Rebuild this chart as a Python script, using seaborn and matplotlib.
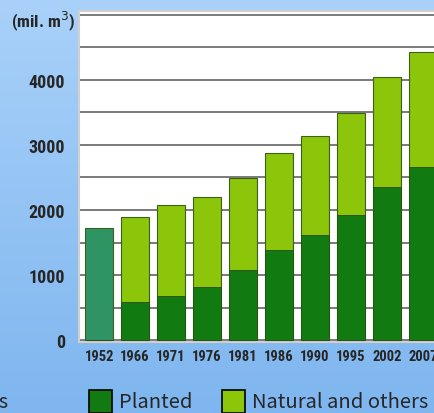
import numpy as np
import pandas as pd
import seaborn as sns
import matplotlib.pyplot as plt
from matplotlib.patches import Rectangle
from matplotlib.colors import LinearSegmentedColormap

# Forest growing stock (mil. m3)
years = ['1952', '1966', '1971', '1976', '1981', '1986', '1990', '1995', '2002', '2007']
total = [1720, 1890, 2080, 2200, 2490, 2880, 3140, 3490, 4050, 4430]
planted = [0, 580, 680, 815, 1080, 1380, 1620, 1920, 2350, 2660]

c_1952 = '#2f9464'
c_planted = '#117a10'
c_natural = '#8cc60a'

df = pd.DataFrame({'Year': years, 'Total': total, 'Planted': planted})

sns.set_style('white')
plt.rcParams['font.family'] = ['Roboto Condensed', 'DejaVu Sans']

W, H = 434, 414
fig = plt.figure(figsize=(W / 100, H / 100), dpi=100)

# light blue gradient background
bg = fig.add_axes([0, 0, 1, 1], zorder=0)
grad = np.linspace(0, 1, 256).reshape(-1, 1)
cmap = LinearSegmentedColormap.from_list('bg', ['#a9d1f9', '#7fb6ef'])
bg.imshow(grad, aspect='auto', cmap=cmap, extent=[0, 1, 0, 1])
bg.axis('off')

ax = fig.add_axes([79 / W, 71 / H, 1 - 79 / W + 0.02, (343 - 12) / H], zorder=1)
ax.set_facecolor('white')

bar_colors = [c_1952] + [c_natural] * (len(years) - 1)
sns.barplot(data=df, x='Year', y='Total', hue='Year', palette=bar_colors, legend=False,
            width=0.78, edgecolor='#3d5f1e', linewidth=0.8, saturation=1, ax=ax, zorder=3)
sns.barplot(data=df, x='Year', y='Planted', color=c_planted, width=0.78,
            edgecolor='#2c4a15', linewidth=0.6, saturation=1, ax=ax, zorder=4)

ax.set_xlim(-0.56, 9.55)
ax.set_ylim(-30, 5060)
ticks = list(range(0, 5001, 500))
ax.set_yticks(ticks)
ax.set_yticklabels([str(v) if v % 1000 == 0 and v < 5000 else '' for v in ticks])
ax.yaxis.grid(True, color='#707070', linewidth=1.3, zorder=0)
ax.set_axisbelow(True)
ax.tick_params(axis='y', length=0, pad=10, labelsize=13)
ax.tick_params(axis='x', length=0, pad=5, labelsize=10.5)
for lab in ax.get_yticklabels() + ax.get_xticklabels():
    lab.set_fontweight('bold')
ax.set_xlabel('')
ax.set_ylabel('')
for s in ax.spines.values():
    s.set_color('#d0d0d0')
    s.set_linewidth(1.5)

fig.text(43 / W, 1 - 21 / H, '(mil. m$^3$)', ha='center', va='center',
         fontsize=12.5, fontweight='bold')

# legend (partly cut off as in the original slide)
lfont = ['Noto Sans CJK JP', 'DejaVu Sans']
fig.text(8 / W, 1 - 403 / H, 'Natural forests', ha='right', va='center', fontsize=14.5, family=lfont)
for x0, col, name in [(89, c_planted, 'Planted'), (222, c_natural, 'Natural and others')]:
    fig.patches.append(Rectangle((x0 / W, 1 - 414 / H), 23 / W, 23 / H, transform=fig.transFigure,
                                 facecolor=col, edgecolor='black', linewidth=1.2, zorder=5))
    fig.text((x0 + 30) / W, 1 - 403 / H, name, ha='left', va='center', fontsize=14.5, family=lfont)

fig.savefig('out.png', dpi=100)
